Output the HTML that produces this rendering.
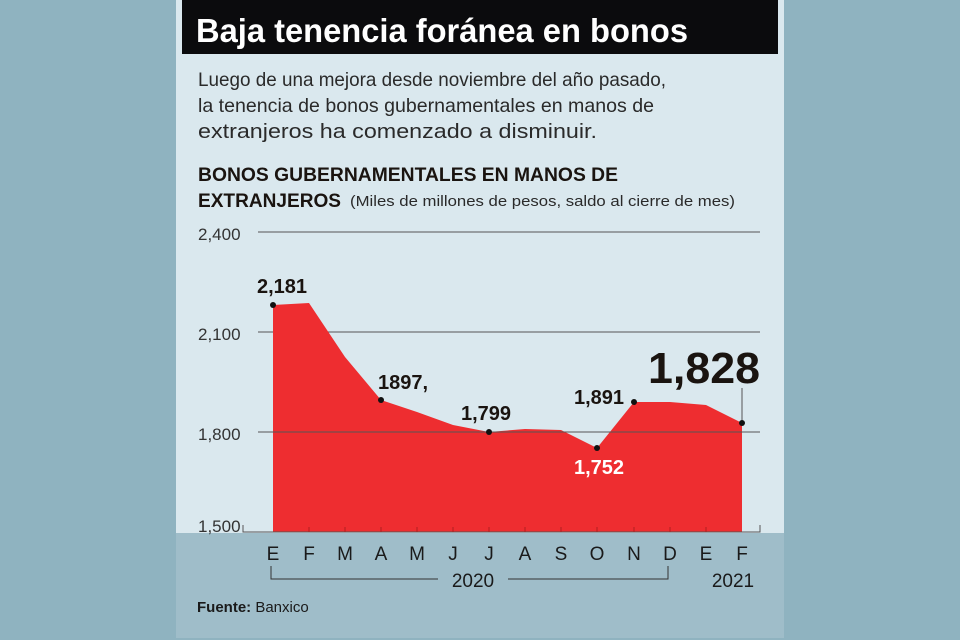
<!DOCTYPE html>
<html><head><meta charset="utf-8"><style>
body{margin:0;width:960px;height:640px;background:#8fb3c0;overflow:hidden;font-family:"Liberation Sans",sans-serif}
</style></head><body>
<svg width="960" height="640" xmlns="http://www.w3.org/2000/svg" style="position:absolute;left:0;top:0">
<rect x="0" y="0" width="960" height="640" fill="#8fb3c0"/>
<rect x="176" y="0" width="608" height="638" fill="#dae8ee"/>
<rect x="176" y="533" width="608" height="105" fill="#9fbdc9"/>
<rect x="182" y="0" width="596" height="54" fill="#0b0b0d"/>
<text x="196" y="42" font-size="33" font-weight="bold" fill="#fff" textLength="492" lengthAdjust="spacingAndGlyphs">Baja tenencia foránea en bonos</text>
<g font-size="19.5" fill="#2a2a2a">
<text x="198" y="86" textLength="468" lengthAdjust="spacingAndGlyphs">Luego de una mejora desde noviembre del año pasado,</text>
<text x="198" y="112" textLength="456" lengthAdjust="spacingAndGlyphs">la tenencia de bonos gubernamentales en manos de</text>
<text x="198" y="138" font-size="20.5" textLength="399" lengthAdjust="spacingAndGlyphs">extranjeros ha comenzado a disminuir.</text>
</g>
<text x="198" y="181" font-size="19" font-weight="bold" fill="#1a1410" textLength="420" lengthAdjust="spacingAndGlyphs">BONOS GUBERNAMENTALES EN MANOS DE</text>
<text x="198" y="207" font-size="19" font-weight="bold" fill="#1a1410" textLength="143" lengthAdjust="spacingAndGlyphs">EXTRANJEROS</text>
<text x="350" y="206" font-size="14.5" fill="#2a2a2a" textLength="385" lengthAdjust="spacingAndGlyphs">(Miles de millones de pesos, saldo al cierre de mes)</text>
<g font-size="17" fill="#333">
<text x="198" y="240">2,400</text><text x="198" y="340">2,100</text><text x="198" y="440">1,800</text><text x="198" y="532">1,500</text>
</g>
<g stroke="#555" stroke-width="1">
<line x1="258" y1="232" x2="760" y2="232"/><line x1="258" y1="332" x2="760" y2="332"/>
</g>
<polygon fill="#ee2d30" points="273,532 273,305 309,303 345,357 381,400 417,412 453,425 489,432 525,429 561,430 597,448 634,402 670,402 706,405 742,423 742,532"/>
<g stroke="#555" stroke-width="1" fill="none">
<line x1="258" y1="432" x2="760" y2="432"/>
<polyline points="243,525 243,532 760,532 760,525"/>
<line x1="742" y1="388" x2="742" y2="423"/>
</g>
<g stroke="#b02020" stroke-width="1">
<line x1="309" y1="527" x2="309" y2="532"/><line x1="345" y1="527" x2="345" y2="532"/><line x1="381" y1="527" x2="381" y2="532"/><line x1="417" y1="527" x2="417" y2="532"/><line x1="453" y1="527" x2="453" y2="532"/><line x1="489" y1="527" x2="489" y2="532"/><line x1="525" y1="527" x2="525" y2="532"/><line x1="561" y1="527" x2="561" y2="532"/><line x1="597" y1="527" x2="597" y2="532"/><line x1="634" y1="527" x2="634" y2="532"/><line x1="670" y1="527" x2="670" y2="532"/><line x1="706" y1="527" x2="706" y2="532"/>
</g>
<g fill="#111">
<circle cx="273" cy="305" r="3"/><circle cx="381" cy="400" r="3"/><circle cx="489" cy="432" r="3"/><circle cx="597" cy="448" r="3"/><circle cx="634" cy="402" r="3"/><circle cx="742" cy="423" r="3"/>
</g>
<g font-size="20" font-weight="bold" fill="#1a1410">
<text x="257" y="293">2,181</text>
<text x="378" y="389">1897,</text>
<text x="461" y="420">1,799</text>
<text x="574" y="404">1,891</text>
</g>
<text x="574" y="474" font-size="20" font-weight="bold" fill="#fff">1,752</text>
<text x="648" y="383" font-size="44" font-weight="bold" fill="#1a1410" textLength="112" lengthAdjust="spacingAndGlyphs">1,828</text>
<g font-size="19" fill="#1a1a1a" text-anchor="middle">
<text x="273" y="560">E</text><text x="309" y="560">F</text><text x="345" y="560">M</text><text x="381" y="560">A</text><text x="417" y="560">M</text><text x="453" y="560">J</text><text x="489" y="560">J</text><text x="525" y="560">A</text><text x="561" y="560">S</text><text x="597" y="560">O</text><text x="634" y="560">N</text><text x="670" y="560">D</text><text x="706" y="560">E</text><text x="742" y="560">F</text>
<text x="473" y="587">2020</text><text x="733" y="587">2021</text>
</g>
<g stroke="#333" stroke-width="1" fill="none">
<polyline points="271,566 271,579 438,579"/><polyline points="508,579 668,579 668,566"/>
</g>
<text x="197" y="612" font-size="15" fill="#1a1a1a"><tspan font-weight="bold">Fuente:</tspan> Banxico</text>
</svg>
</body></html>
